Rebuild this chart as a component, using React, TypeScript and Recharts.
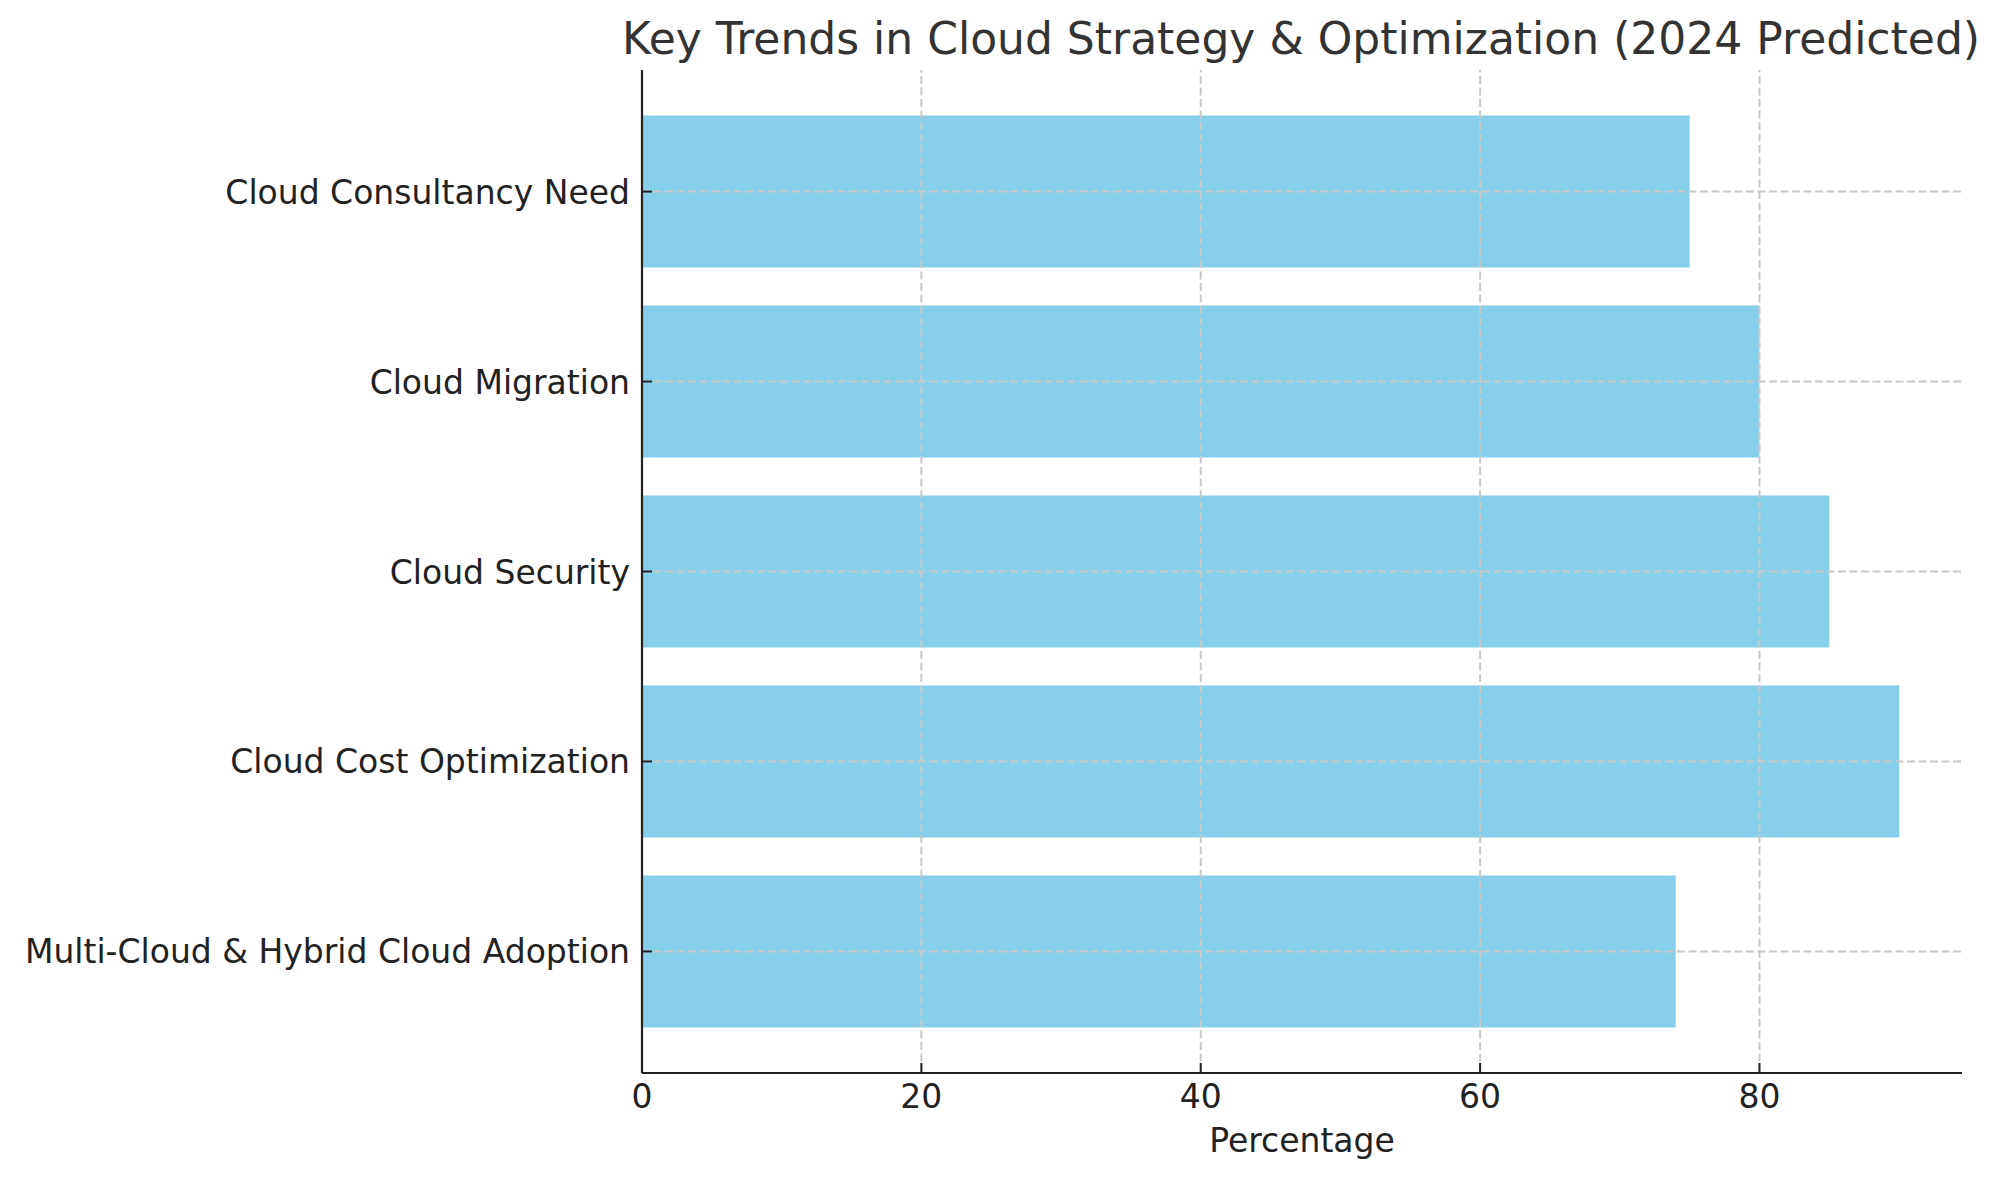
import React from "react";
import { BarChart, Bar, XAxis, YAxis, ReferenceLine } from "recharts";

// top to bottom, as drawn
const categories = [
  "Cloud Consultancy Need",
  "Cloud Migration",
  "Cloud Security",
  "Cloud Cost Optimization",
  "Multi-Cloud & Hybrid Cloud Adoption",
];
const percentages = [75, 80, 85, 90, 74];
const xTicks = [0, 20, 40, 60, 80];

const data = categories.map((name, i) => ({ name, value: percentages[i] }));

const FONT = "'DejaVu Sans', sans-serif";
const INK = "#222";
const GRID = { stroke: "#c8c8c8", strokeDasharray: "8 3.5", strokeWidth: 2 };

function XTick(props: any) {
  const { x, y, payload } = props;
  return (
    <g>
      <line x1={x} x2={x} y1={y} y2={y - 10} stroke={INK} strokeWidth={2} />
      <text x={x} y={y + 35} textAnchor="middle" fill={INK} fontSize={33} fontFamily={FONT}>
        {payload.value}
      </text>
    </g>
  );
}

function YTick(props: any) {
  const { x, y, payload } = props;
  return (
    <g>
      <line x1={x} x2={x + 10} y1={y} y2={y} stroke={INK} strokeWidth={2} />
      <text x={x - 12} y={y + 12} textAnchor="end" fill={INK} fontSize={33} fontFamily={FONT}>
        {payload.value}
      </text>
    </g>
  );
}

export default function App() {
  return (
    <div style={{ position: "absolute", left: 0, top: 0, width: 2007, height: 1180, background: "#fff" }}>
      <div
        style={{
          position: "absolute",
          left: 1301,
          top: 17,
          transform: "translateX(-50%)",
          fontFamily: FONT,
          fontSize: 44,
          lineHeight: "44px",
          color: "#333",
          whiteSpace: "nowrap",
        }}
      >
        Key Trends in Cloud Strategy &amp; Optimization (2024 Predicted)
      </div>
      <BarChart
        width={2007}
        height={1180}
        data={data}
        layout="vertical"
        margin={{ top: 70, right: 45, bottom: 0, left: 0 }}
        barCategoryGap="10%"
      >
        <XAxis
          type="number"
          domain={[0, 94.5]}
          ticks={xTicks}
          allowDataOverflow
          height={107}
          tickSize={0}
          tickMargin={0}
          tickLine={false}
          tick={<XTick />}
          axisLine={{ stroke: INK, strokeWidth: 2.2 }}
          label={{
            value: "Percentage",
            position: "insideBottom",
            offset: 28,
            fill: INK,
            fontSize: 33,
            fontFamily: FONT,
          }}
        />
        <YAxis
          type="category"
          dataKey="name"
          width={642}
          padding={{ top: 26.6, bottom: 26.6 }}
          tickSize={0}
          tickMargin={0}
          tickLine={false}
          tick={<YTick />}
          axisLine={{ stroke: INK, strokeWidth: 2.2 }}
          interval={0}
        />
        <Bar dataKey="value" fill="#87CEEB" isAnimationActive={false} />
        {xTicks
          .filter((t) => t > 0)
          .map((t) => (
            <ReferenceLine key={"x" + t} x={t} {...GRID} />
          ))}
        {categories.map((c) => (
          <ReferenceLine key={"y" + c} y={c} {...GRID} />
        ))}
      </BarChart>
    </div>
  );
}
